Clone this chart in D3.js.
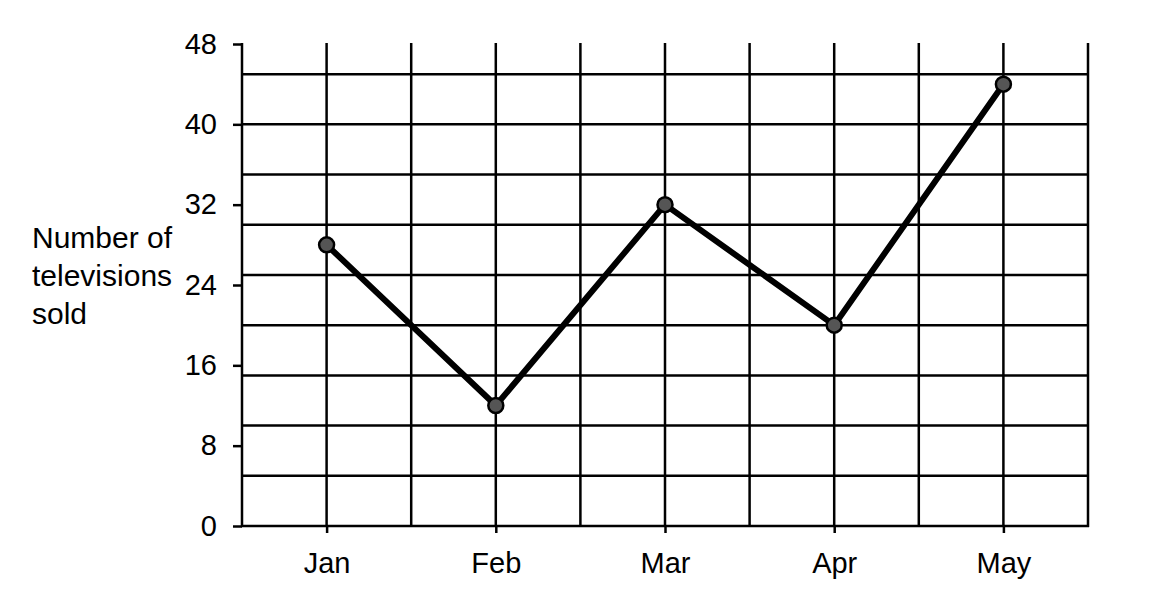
<!DOCTYPE html>
<html>
    <head>
        <title></title>
        <style>
            body { margin: 0; background: #fff; }
            text { font-family: "Liberation Sans", Arial, sans-serif; fill: #000; }
        </style>
    </head>
    <body>
        <script src="https://cdnjs.cloudflare.com/ajax/libs/d3/7.8.5/d3.min.js"></script>
        <script>

        var months = ["Jan", "Feb", "Mar", "Apr", "May"];
        var sold = [28, 12, 32, 20, 44];
        var yTicks = [0, 8, 16, 24, 32, 40, 48];
        var yLabel = ["Number of", "televisions", "sold"];

        var w = 1157, h = 600;
        var margin = {top: 44, right: 69, bottom: 74, left: 242};
        var innerW = w - margin.left - margin.right;
        var innerH = h - margin.top - margin.bottom;

        var svg = d3.select("body")
                    .append("svg")
                    .attr("width", w)
                    .attr("height", h);

        var g = svg.append("g")
                   .attr("transform", "translate(" + margin.left + "," + margin.top + ")");

        var xScale = d3.scalePoint()
                       .domain(months)
                       .range([0, innerW])
                       .padding(0.5);

        var yScale = d3.scaleLinear()
                       .domain([0, 48])
                       .range([innerH, 0]);

        // grid: every 4 units across, and at each month plus halfway between
        var step = xScale.step();
        var vLines = [];
        months.forEach(function(m) {
            vLines.push(xScale(m) - step / 2);
            vLines.push(xScale(m));
        });
        vLines.push(innerW);

        g.append("g").selectAll("line")
            .data(yScale.ticks(12))
            .enter()
            .append("line")
            .attr("x1", -1)
            .attr("x2", innerW + 1)
            .attr("y1", function(d) { return yScale(d); })
            .attr("y2", function(d) { return yScale(d); })
            .attr("stroke", "#000")
            .attr("stroke-width", 2.5);

        g.append("g").selectAll("line")
            .data(vLines)
            .enter()
            .append("line")
            .attr("x1", function(d) { return d; })
            .attr("x2", function(d) { return d; })
            .attr("y1", -1)
            .attr("y2", innerH + 1)
            .attr("stroke", "#000")
            .attr("stroke-width", 2.5);

        // axes
        var yAxis = g.append("g")
            .call(d3.axisLeft(yScale).tickValues(yTicks).tickSize(9).tickPadding(16));

        var xAxis = g.append("g")
            .attr("transform", "translate(0," + innerH + ")")
            .call(d3.axisBottom(xScale).tickSize(7).tickPadding(19));

        [yAxis, xAxis].forEach(function(a) {
            a.select(".domain").remove();
            a.selectAll("line").attr("stroke", "#000").attr("stroke-width", 2.5);
            a.selectAll("text")
                .attr("font-size", "29px")
                .attr("font-family", "Liberation Sans, Arial, sans-serif")
                .attr("fill", "#000");
        });

        // line + points
        var line = d3.line()
            .x(function(d, i) { return xScale(months[i]); })
            .y(function(d) { return yScale(d); });

        g.append("path")
            .datum(sold)
            .attr("d", line)
            .attr("fill", "none")
            .attr("stroke", "#000")
            .attr("stroke-width", 6)
            .attr("stroke-linejoin", "round");

        g.selectAll("circle")
            .data(sold)
            .enter()
            .append("circle")
            .attr("cx", function(d, i) { return xScale(months[i]); })
            .attr("cy", function(d) { return yScale(d); })
            .attr("r", 7.5)
            .attr("fill", "#555")
            .attr("stroke", "#000")
            .attr("stroke-width", 2.5);

        // y label, three lines
        svg.append("text")
            .attr("font-size", "30px")
            .selectAll("tspan")
            .data(yLabel)
            .enter()
            .append("tspan")
            .attr("x", 32)
            .attr("y", function(d, i) { return 248 + i * 38; })
            .text(function(d) { return d; });

        </script>
    </body>
</html>
